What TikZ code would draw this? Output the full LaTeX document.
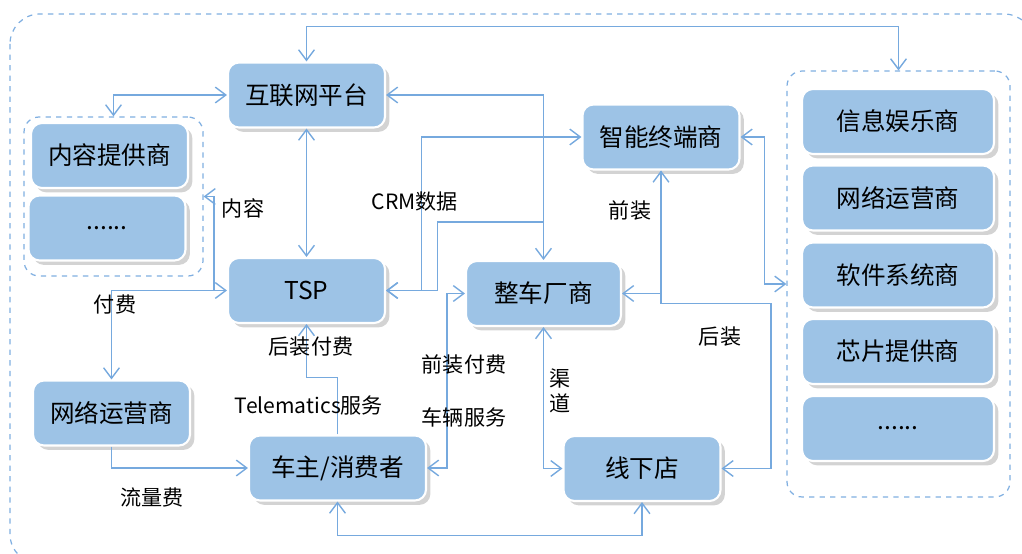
\documentclass[tikz,border=0pt]{standalone}
\usepackage{fontspec}
\newfontfamily\cjk{Noto Sans CJK SC}
\usepackage{tikz}
\usetikzlibrary{arrows.meta,shadows,calc}

\definecolor{boxblue}{RGB}{157,195,230}
\definecolor{linkblue}{RGB}{118,169,222}
\definecolor{grpblue}{RGB}{128,175,225}

\begin{document}
\begin{tikzpicture}[x=0.02cm, y=-0.02cm,
    box/.style={draw=white, line width=1.2pt, fill=boxblue, rounded corners=0.22cm,
        minimum width=3.14cm, minimum height=1.3cm, inner sep=0pt,
        font=\cjk\fontsize{14}{16}\selectfont,
        drop shadow={shadow xshift=2.5pt, shadow yshift=-2.5pt, opacity=0.35, fill=gray}},
    grp/.style={draw=grpblue, dashed, line width=0.7pt, rounded corners=0.3cm, inner sep=0pt},
    lbl/.style={font=\cjk\fontsize{12}{14}\selectfont, inner sep=0pt},
    arr/.style={draw=linkblue, line width=0.8pt, -{Straight Barb[length=6pt,width=9pt]}},
    biarr/.style={draw=linkblue, line width=0.8pt, {Straight Barb[length=6pt,width=9pt]}-{Straight Barb[length=6pt,width=9pt]}}]
    \useasboundingbox (0,0) rectangle (1022,554);
    \clip (0,0) rectangle (1022,554);

    % outer frame
    \draw[grp, rounded corners=0.6cm] (10,14) rectangle (1034,564);

    % groups
    \node[grp, minimum width=3.58cm, minimum height=3.18cm] (lgroup) at (113.5,196.5) {};
    \node[grp, minimum width=4.46cm, minimum height=8.52cm] (rgroup) at (898.5,284) {};

    % left side
    \node[box] (content) at (109.5,155.5) {内容提供商};
    \node[box] (contentmore) at (107,228) {......};
    \node[box] (carrier) at (111.5,413) {网络运营商};

    % middle
    \node[box] (inet) at (306.5,95) {互联网平台};
    \node[box] (tsp) at (306.5,290.5) {TSP};
    \node[box, minimum width=3.54cm] (owner) at (337.5,468) {车主/消费者};
    \node[box, minimum width=3.1cm] (oem) at (543.5,293.5) {整车厂商};
    \node[box] (terminal) at (661,137) {智能终端商};
    \node[box] (store) at (642,468.5) {线下店};

    % right side
    \node[box, minimum width=3.84cm] (info) at (898,121.5) {信息娱乐商};
    \node[box, minimum width=3.84cm] (network) at (898,198) {网络运营商};
    \node[box, minimum width=3.84cm] (software) at (898,275) {软件系统商};
    \node[box, minimum width=3.84cm] (chip) at (898,351.5) {芯片提供商};
    \node[box, minimum width=3.84cm] (rightmore) at (898,428.5) {......};

    % links
    \draw[biarr] (inet.north) -- ++(0,-35) -| (rgroup.north);
    \draw[biarr] (inet.west) -| (lgroup.north);
    \draw[biarr] (inet.south) -- (tsp.north);
    \draw[biarr] (inet.east) -| (oem.north);
    \draw[biarr] (terminal.west) -- ++(-160,0) |- (tsp.east);
    \draw[arr] ($(oem.north)+(0,-38)$) -- ++(-106,0) |- (tsp.east);
    \draw[biarr] (terminal.east) -- ++(24,0) |- (rgroup.west);
    \draw[biarr] (terminal.south) |- (oem.east);
    \draw[arr] (terminal.south) -- ++(0,133) -- ++(110,0) |- (store.east);
    \draw[biarr] (oem.south) |- (store.west);
    \draw[biarr] (owner.east) -- ++(20,0) |- (oem.west);
    \draw[arr] (owner.north) -- ++(0,-57) -| (tsp.south);
    \draw[biarr] (tsp.west) -| (carrier.north);
    \draw[arr] ($(tsp.west)+(-13,0)$) |- (lgroup.east);
    \draw[arr] (carrier.south) |- (owner.west);
    \draw[biarr] (owner.south) -- ++(0,34) -| (store.south);

    % labels
    \node[lbl] (lcontent) at (243,208) {内容};
    \node[lbl] (lcrm) at (415,202) {CRM数据};
    \node[lbl] (lfront) at (630,210) {前装};
    \node[lbl] (lpay) at (115,305) {付费};
    \node[lbl] (lrearpay) at (311,347) {后装付费};
    \node[lbl] (ltele) at (309,405) {Telematics服务};
    \node[lbl] (lfrontpay) at (464,364) {前装付费};
    \node[lbl] (lvehicle) at (464,417) {车辆服务};
    \node[lbl] (ltraffic) at (152,497) {流量费};
    \node[lbl] (lrear) at (720,337) {后装};
    \node[lbl, align=center] (lchannel) at (560,391) {渠\\道};
\end{tikzpicture}
\end{document}
